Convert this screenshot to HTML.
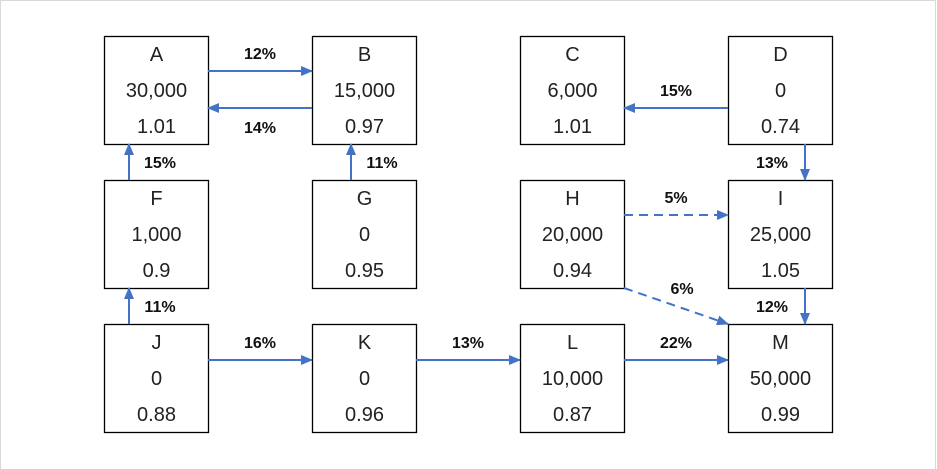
<!DOCTYPE html>
<html><head><meta charset="utf-8"><style>
html,body{margin:0;padding:0;background:#fff}
svg{display:block}
.bt{font-family:"Liberation Sans",sans-serif;font-size:20px;fill:#222;text-anchor:middle}
.pl{font-family:"Liberation Sans",sans-serif;font-size:16px;font-weight:bold;fill:#111;text-anchor:middle}
</style></head><body>
<svg id="chart" width="937" height="469" viewBox="0 0 937 469">
<defs><marker id="ah" markerWidth="12" markerHeight="10" refX="11" refY="5" orient="auto" markerUnits="userSpaceOnUse"><path d="M0,0 L12,5 L0,10 Z" fill="#4472C4"/></marker></defs>
<rect x="0.5" y="0.5" width="935" height="470" fill="none" stroke="#d9d9d9"/>
<g id="nodes"></g><g id="edges"></g>
</svg>
<script>
const nodeNames=["A","B","C","D","F","G","H","I","J","K","L","M"];
const nodeValues=["30,000","15,000","6,000","0","1,000","0","20,000","25,000","0","0","10,000","50,000"];
const nodeRatios=["1.01","0.97","1.01","0.74","0.9","0.95","0.94","1.05","0.88","0.96","0.87","0.99"];
const nodeCols=[0,1,2,3,0,1,2,3,0,1,2,3];
const nodeRows=[0,0,0,0,1,1,1,1,2,2,2,2];
const edgeFrom=["A","B","F","G","D","D","H","H","I","J","J","K","L"];
const edgeTo=["B","A","A","B","C","I","I","M","M","F","K","L","M"];
const edgeLabels=["12%","14%","15%","11%","15%","13%","5%","6%","12%","11%","16%","13%","22%"];
const edgeDashed=[0,0,0,0,0,0,1,1,0,0,0,0,0];
const NS="http://www.w3.org/2000/svg";
const colX=c=>104+c*208, rowY=r=>36+r*144, W=104, H=108;
const gN=document.getElementById("nodes"), gE=document.getElementById("edges");
function mk(t,a){const e=document.createElementNS(NS,t);for(const k in a)e.setAttribute(k,a[k]);return e;}
const pos={};
nodeNames.forEach((n,i)=>{
  const x=colX(nodeCols[i]),y=rowY(nodeRows[i]);pos[n]={x,y};
  const g=mk("g",{});
  
  
  g.appendChild(mk("rect",{x:x+0.5,y:y+0.5,width:W,height:H,fill:"#fff",stroke:"#000","stroke-width":1.3}));
  [n,nodeValues[i],nodeRatios[i]].forEach((t,k)=>{const tx=mk("text",{x:x+W/2+0.5,y:y+25+k*36,class:"bt"});tx.textContent=t;g.appendChild(tx);});
  gN.appendChild(g);
});
edgeFrom.forEach((f,i)=>{
  const a=pos[f],b=pos[edgeTo[i]];let x1,y1,x2,y2,lx,ly;
  if(a.y===b.y){
    const right=b.x>a.x;
    const yy=(f==="B"||f==="D")?a.y+72:(a.y===rowY(2)?a.y+36:a.y+35);
    x1=right?a.x+W:a.x;x2=right?b.x:b.x+W;y1=y2=yy;
    lx=(x1+x2)/2;ly=(f==="B")?yy+25:yy-12;
  }else if(a.x===b.x){
    const down=b.y>a.y;const xx=a.x+(f==="G"?39:(a.x===colX(3)?77:25));
    x1=x2=xx;y1=down?a.y+H:a.y;y2=down?b.y:b.y+H;
    lx=xx+(a.x===colX(3)?-33:31);ly=(y1+y2)/2+6;
  }else{
    x1=a.x+W;y1=a.y+H;x2=b.x;y2=b.y;lx=(x1+x2)/2+6;ly=(y1+y2)/2-12;
  }
  const ln=mk("line",{x1,y1,x2,y2,stroke:"#4472C4","stroke-width":2,"marker-end":"url(#ah)"});
  if(edgeDashed[i])ln.setAttribute("stroke-dasharray","9,6");
  
  
  gE.appendChild(ln);
  const t=mk("text",{x:lx,y:ly,class:"pl"});t.textContent=edgeLabels[i];
  
  
  gE.appendChild(t);
});
</script>
</body></html>
